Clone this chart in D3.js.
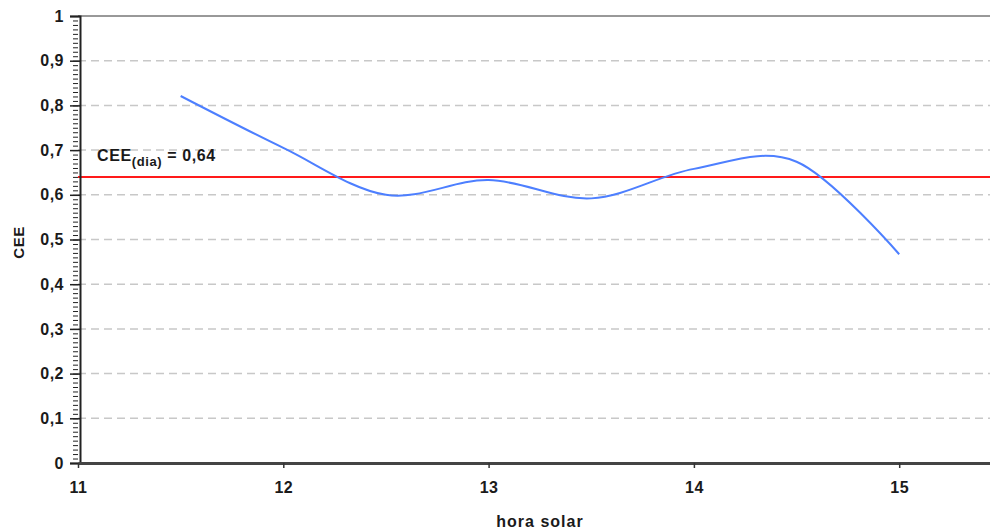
<!DOCTYPE html>
<html>
<head>
  <meta charset="utf-8">
  <script src="https://cdn.jsdelivr.net/npm/d3@7/dist/d3.min.js"></script>
</head>
<style>
  body { margin: 0; background: #fff; }
  text { font-family: "Liberation Sans", Arial, sans-serif; font-weight: bold; fill: #1a1a1a; }
</style>
<body>
  <svg id="chart"></svg>
  <script type="text/javascript">
    // data
    var hours = [11.5, 12, 12.5, 13, 13.5, 14, 14.5, 15];
    var cee = [0.821, 0.705, 0.600, 0.633, 0.592, 0.658, 0.674, 0.467];
    var ceeDia = 0.64;
    var xTicks = [11, 12, 13, 14, 15];
    var yTicks = [0, 0.1, 0.2, 0.3, 0.4, 0.5, 0.6, 0.7, 0.8, 0.9, 1];

    var W = 990, H = 531;
    var margin = { top: 16, left: 78, bottom: 68, right: 0 };
    var height = H - margin.top - margin.bottom;

    var svg = d3.select('#chart')
      .attr('width', W)
      .attr('height', H);
    var g = svg.append('g')
      .attr('transform', 'translate(' + margin.left + ',' + margin.top + ')');

    var x = d3.scaleLinear()
      .domain([11, 15.5])
      .range([0, 205.3 * 4.5]);
    var y = d3.scaleLinear()
      .domain([0, 1])
      .range([height, 0]);

    var fmt = function (d) { return d3.format('~g')(d).replace('.', ','); };

    // dashed grid
    g.selectAll('.grid')
      .data(yTicks.filter(function (d) { return d > 0 && d < 1; }))
      .enter()
      .append('line')
      .attr('x1', 0)
      .attr('x2', x(15.5))
      .attr('y1', function (d) { return y(d); })
      .attr('y2', function (d) { return y(d); })
      .attr('stroke', '#c8c8c8')
      .attr('stroke-width', 1.5)
      .attr('stroke-dasharray', '8,5');

    // top border
    g.append('line')
      .attr('x1', 0).attr('x2', x(15.5))
      .attr('y1', y(1)).attr('y2', y(1))
      .attr('stroke', '#333').attr('stroke-width', 1);

    // average line
    g.append('line')
      .attr('x1', 0).attr('x2', x(15.5))
      .attr('y1', y(ceeDia)).attr('y2', y(ceeDia))
      .attr('stroke', '#ff1a1a').attr('stroke-width', 2);

    var lbl = g.append('text')
      .attr('x', 19)
      .attr('y', y(ceeDia) - 16)
      .attr('font-size', 16)
      .attr('letter-spacing', 0.6);
    lbl.append('tspan').text('CEE');
    lbl.append('tspan').attr('font-size', 13).attr('dy', 5).text('(dia)');
    lbl.append('tspan').attr('dy', -5).text(' = ' + fmt(ceeDia));

    // curve
    var line = d3.line()
      .x(function (d, i) { return x(hours[i]); })
      .y(function (d) { return y(d); })
      .curve(d3.curveCardinal.tension(0));
    g.append('path')
      .datum(cee)
      .attr('d', line)
      .attr('fill', 'none')
      .attr('stroke', '#4d7fff')
      .attr('stroke-width', 2);

    var styleText = function (s) {
      s.selectAll('text')
        .attr('font-size', 16)
        .attr('letter-spacing', 0.5)
        .attr('font-family', '"Liberation Sans", Arial, sans-serif')
        .attr('font-weight', 'bold')
        .attr('fill', '#1a1a1a');
    };

    // y axis
    var yMinor = d3.axisLeft(y).tickValues(d3.range(0, 101).map(function (d) { return d / 100; }))
      .tickSize(5).tickFormat('');
    g.append('g').call(yMinor)
      .call(function (s) { s.select('.domain').remove(); s.selectAll('line').attr('stroke', '#222'); });
    var yAxis = d3.axisLeft(y).tickValues(yTicks).tickSize(10).tickPadding(6).tickFormat(fmt);
    g.append('g')
      .attr('transform', 'translate(2,0)')
      .call(yAxis)
      .call(function (s) {
        s.select('.domain').attr('stroke', '#222').attr('stroke-width', 2);
        s.selectAll('line').attr('stroke', '#222').attr('stroke-width', 1.5);
      })
      .call(styleText);

    // x axis
    var xAxis = d3.axisBottom(x).tickValues(xTicks).tickSize(5).tickSizeOuter(0)
      .tickPadding(14).tickFormat(d3.format('d'));
    g.append('g')
      .attr('transform', 'translate(0,' + height + ')')
      .call(xAxis)
      .call(function (s) {
        s.select('.domain').attr('stroke', '#444').attr('stroke-width', 3);
        s.selectAll('line').attr('stroke', '#333').attr('stroke-width', 1.5);
      })
      .call(styleText);

    // axis titles
    svg.append('text')
      .attr('x', 540)
      .attr('y', 527)
      .attr('text-anchor', 'middle')
      .attr('font-size', 16)
      .attr('letter-spacing', 1)
      .text('hora solar');
    svg.append('text')
      .attr('transform', 'translate(24,' + (margin.top + height / 2 + 3) + ') rotate(-90)')
      .attr('text-anchor', 'middle')
      .attr('font-size', 15)
      .attr('letter-spacing', 0.5)
      .text('CEE');
  </script>
</body>
</html>
